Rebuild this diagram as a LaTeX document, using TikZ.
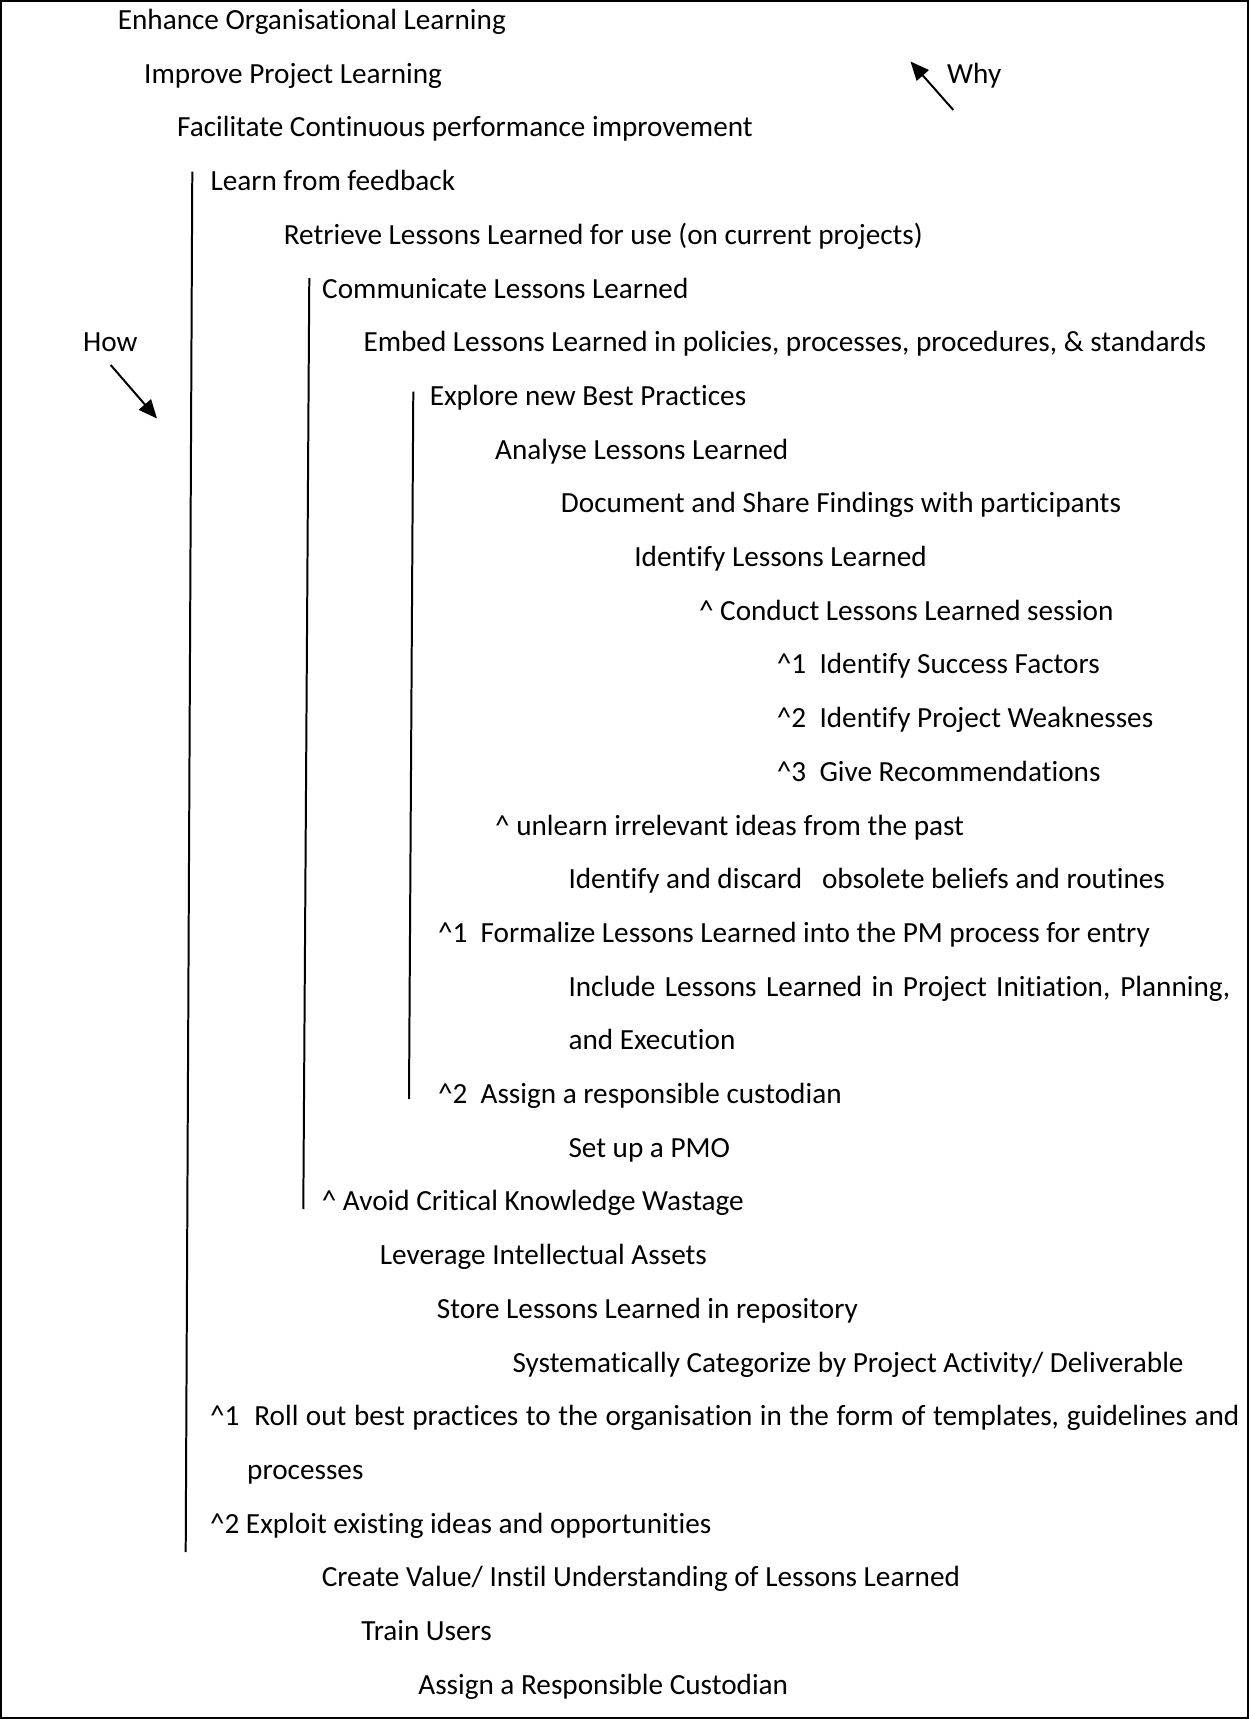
\documentclass[tikz,border=0pt]{standalone}
\usepackage{fontspec}
\setmainfont{Carlito}[Ligatures={NoCommon}]
\usetikzlibrary{arrows.meta}
\newcommand{\crt}{\textasciicircum}
\begin{document}
\begin{tikzpicture}[x=0.3765pt,y=-0.3765pt,
  txt/.style={anchor=base west,inner sep=0pt,font=\fontsize{11pt}{13pt}\selectfont},
  rule/.style={line width=0.75pt},
  pointer/.style={line width=0.75pt,-{Triangle[length=7pt,width=6pt]}}]
\useasboundingbox (0,0) rectangle (1249,1719);
\draw[line width=0.8pt] (1,1) rectangle (1248,1718);
\def\b#1{29.5+53.7*#1}
\node[txt] (l0) at (117.3,{\b{0}}) {Enhance Organisational Learning};
\node[txt] (l1) at (143.7,{\b{1}}) {Improve Project Learning};
\node[txt] (l2) at (176.6,{\b{2}}) {Facilitate Continuous performance improvement};
\node[txt] (l3) at (210,{\b{3}}) {Learn from feedback};
\node[txt] (l4) at (283.3,{\b{4}}) {Retrieve Lessons Learned for use (on current projects)};
\node[txt] (l5) at (321.7,{\b{5}}) {Communicate Lessons Learned};
\node[txt] (l6) at (363,{\b{6}}) {Embed Lessons Learned in policies, processes, procedures, \& standards};
\node[txt] (l7) at (429.3,{\b{7}}) {Explore new Best Practices};
\node[txt] (l8) at (494.6,{\b{8}}) {Analyse Lessons Learned};
\node[txt] (l9) at (560.4,{\b{9}}) {Document and Share Findings with participants};
\node[txt] (l10) at (633.8,{\b{10}}) {Identify Lessons Learned};
\node[txt] (l11) at (698.5,{\b{11}}) {\crt\ Conduct Lessons Learned session};
\node[txt] (l12) at (776.4,{\b{12}}) {\crt1\ \ Identify Success Factors};
\node[txt] (l13) at (776.4,{\b{13}}) {\crt2\ \ Identify Project Weaknesses};
\node[txt] (l14) at (776.4,{\b{14}}) {\crt3\ \ Give Recommendations};
\node[txt] (l15) at (494.6,{\b{15}}) {\crt\ unlearn irrelevant ideas from the past};
\node[txt] (l16) at (568,{\b{16}}) {Identify and discard\ \ \ obsolete beliefs and routines};
\node[txt] (l17) at (437.5,{\b{17}}) {\crt1\ \ Formalize Lessons Learned into the PM process for entry};
\node[txt] (l18) at (568,{\b{18}}) {\makebox[249.2pt][s]{Include Lessons Learned in Project Initiation, Planning,}};
\node[txt] (l19) at (568,{\b{19}}) {and Execution};
\node[txt] (l20) at (437.5,{\b{20}}) {\crt2\ \ Assign a responsible custodian};
\node[txt] (l21) at (568,{\b{21}}) {Set up a PMO};
\node[txt] (l22) at (321.3,{\b{22}}) {\crt\ Avoid Critical Knowledge Wastage};
\node[txt] (l23) at (379.4,{\b{23}}) {Leverage Intellectual Assets};
\node[txt] (l24) at (436.4,{\b{24}}) {Store Lessons Learned in repository};
\node[txt] (l25) at (512.1,{\b{25}}) {Systematically Categorize by Project Activity/ Deliverable};
\node[txt] (l26) at (209.5,{\b{26}}) {\makebox[387.6pt][s]{\crt1\ \ Roll out best practices to the organisation in the form of templates, guidelines and}};
\node[txt] (l27) at (246.7,{\b{27}}) {processes};
\node[txt] (l28) at (209.5,{\b{28}}) {\crt2 Exploit existing ideas and opportunities};
\node[txt] (l29) at (321.3,{\b{29}}) {Create Value/ Instil Understanding of Lessons Learned};
\node[txt] (l30) at (360.8,{\b{30}}) {Train Users};
\node[txt] (l31) at (417.8,{\b{31}}) {Assign a Responsible Custodian};
\node[txt] (how) at (82.7,{\b{6}}) {How};
\node[txt] (why) at (946.7,{\b{1}}) {Why};
% vertical bracket lines
\coordinate (v1t) at (192.3,171.7); \coordinate (v1b) at (185.7,1552);
\coordinate (v2t) at (309.3,278);   \coordinate (v2b) at (303.3,1209);
\coordinate (v3t) at (413.3,391.7); \coordinate (v3b) at (409,1099);
\draw[rule] (v1t) -- (v1b);
\draw[rule] (v2t) -- (v2b);
\draw[rule] (v3t) -- (v3b);
% arrows
\coordinate (howtail) at (110.7,365); \coordinate (howtip) at (157,418.5);
\coordinate (whytail) at (953.3,110); \coordinate (whytip) at (910.5,61.5);
\draw[pointer] (howtail) -- (howtip);
\draw[pointer] (whytail) -- (whytip);
\end{tikzpicture}
\end{document}
